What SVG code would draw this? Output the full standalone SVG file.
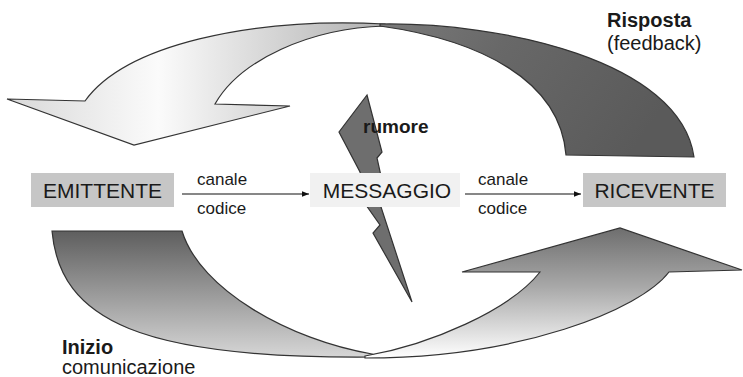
<svg xmlns="http://www.w3.org/2000/svg" width="743" height="377" viewBox="0 0 743 377">
<style>
.t{font-family:"Liberation Sans",Arial,sans-serif;fill:#1a1a1a}
.box{font-size:21px}
.lbl{font-size:17px}
.b{font-weight:bold}
.sh{stroke:#333;stroke-width:1.2;stroke-linejoin:miter}
.ln{stroke:#111;stroke-width:1.2;fill:none}
</style>
<defs>
<linearGradient id="gLight" x1="0" y1="0" x2="1" y2="0">
<stop offset="0" stop-color="#d8d8d8"/>
<stop offset="0.4" stop-color="#fbfbfb"/>
<stop offset="1" stop-color="#b0b0b0"/>
</linearGradient>
<linearGradient id="gDarkTop" x1="0" y1="0" x2="1" y2="0.3">
<stop offset="0" stop-color="#7a7a7a"/>
<stop offset="0.4" stop-color="#686868"/>
<stop offset="1" stop-color="#5a5a5a"/>
</linearGradient>
<linearGradient id="gBotLeft" x1="0" y1="0" x2="0" y2="1">
<stop offset="0" stop-color="#5e5e5e"/>
<stop offset="1" stop-color="#d6d6d6"/>
</linearGradient>
<linearGradient id="gUp" x1="0" y1="0" x2="0" y2="1">
<stop offset="0" stop-color="#6e6e6e"/>
<stop offset="0.45" stop-color="#a8a8a8"/>
<stop offset="1" stop-color="#ffffff"/>
</linearGradient>
<marker id="ah" viewBox="0 0 10 10" refX="10" refY="5" markerWidth="7" markerHeight="7" markerUnits="userSpaceOnUse" orient="auto">
<path d="M0,1 L10,5 L0,9 Z" fill="#111"/>
</marker>
</defs>

<g id="feedback-arrow">
<path class="sh" fill="url(#gLight)" d="M385,24 C250,17 125,45 85,101 L7,99 L134,145 L290,106 L215,104 C240,60 310,28 385,26 Z"/>
<path class="sh" fill="url(#gDarkTop)" d="M380,24 C500,22 680,60 694,157 L566,155 C560,80 480,40 380,26 Z"/>
<text class="t b" x="607" y="27" font-size="20">Risposta</text>
<text class="t" x="607" y="50" font-size="20">(feedback)</text>
</g>

<g id="inizio-arrow">
<path class="sh" fill="url(#gBotLeft)" d="M52,231 L182,231 C200,290 290,340 372,354 L380,357 C140,360 60,320 52,231 Z"/>
<path class="sh" fill="url(#gUp)" d="M365,356 C430,345 510,310 540,272 L462,272 L620,228 L742,270 L669,272 C640,310 520,358 365,358 Z"/>
<text class="t b" x="62" y="354" font-size="20">Inizio</text>
<text class="t" x="62" y="374" font-size="20">comunicazione</text>
</g>

<g id="rumore">
<path class="sh" fill="#6e6e6e" d="M367,95 L382,152 L377,158 L383,185 L381,207 L412,302 L373,233 L380,225 L366,205 L360,172 L339,132 Z"/>
<text class="t b" x="363" y="133" font-size="19">rumore</text>
</g>

<g id="emittente">
<rect x="31" y="173" width="143" height="34" fill="#c6c6c6"/>
<text class="t box" x="102.5" y="197.5" text-anchor="middle">EMITTENTE</text>
</g>

<g id="messaggio">
<rect x="310" y="173" width="150" height="34" fill="#f1f1f1"/>
<text class="t box" x="387" y="197.5" text-anchor="middle">MESSAGGIO</text>
</g>

<g id="ricevente">
<rect x="583" y="173" width="143" height="34" fill="#c6c6c6"/>
<text class="t box" x="654.5" y="197.5" text-anchor="middle">RICEVENTE</text>
</g>

<g id="connectors">
<line class="ln" x1="182" y1="194" x2="309" y2="194" marker-end="url(#ah)"/>
<text class="t lbl" x="197" y="185">canale</text>
<text class="t lbl" x="197" y="214">codice</text>
<line class="ln" x1="465" y1="194" x2="581" y2="194" marker-end="url(#ah)"/>
<text class="t lbl" x="478" y="185">canale</text>
<text class="t lbl" x="478" y="214">codice</text>
</g>
</svg>
